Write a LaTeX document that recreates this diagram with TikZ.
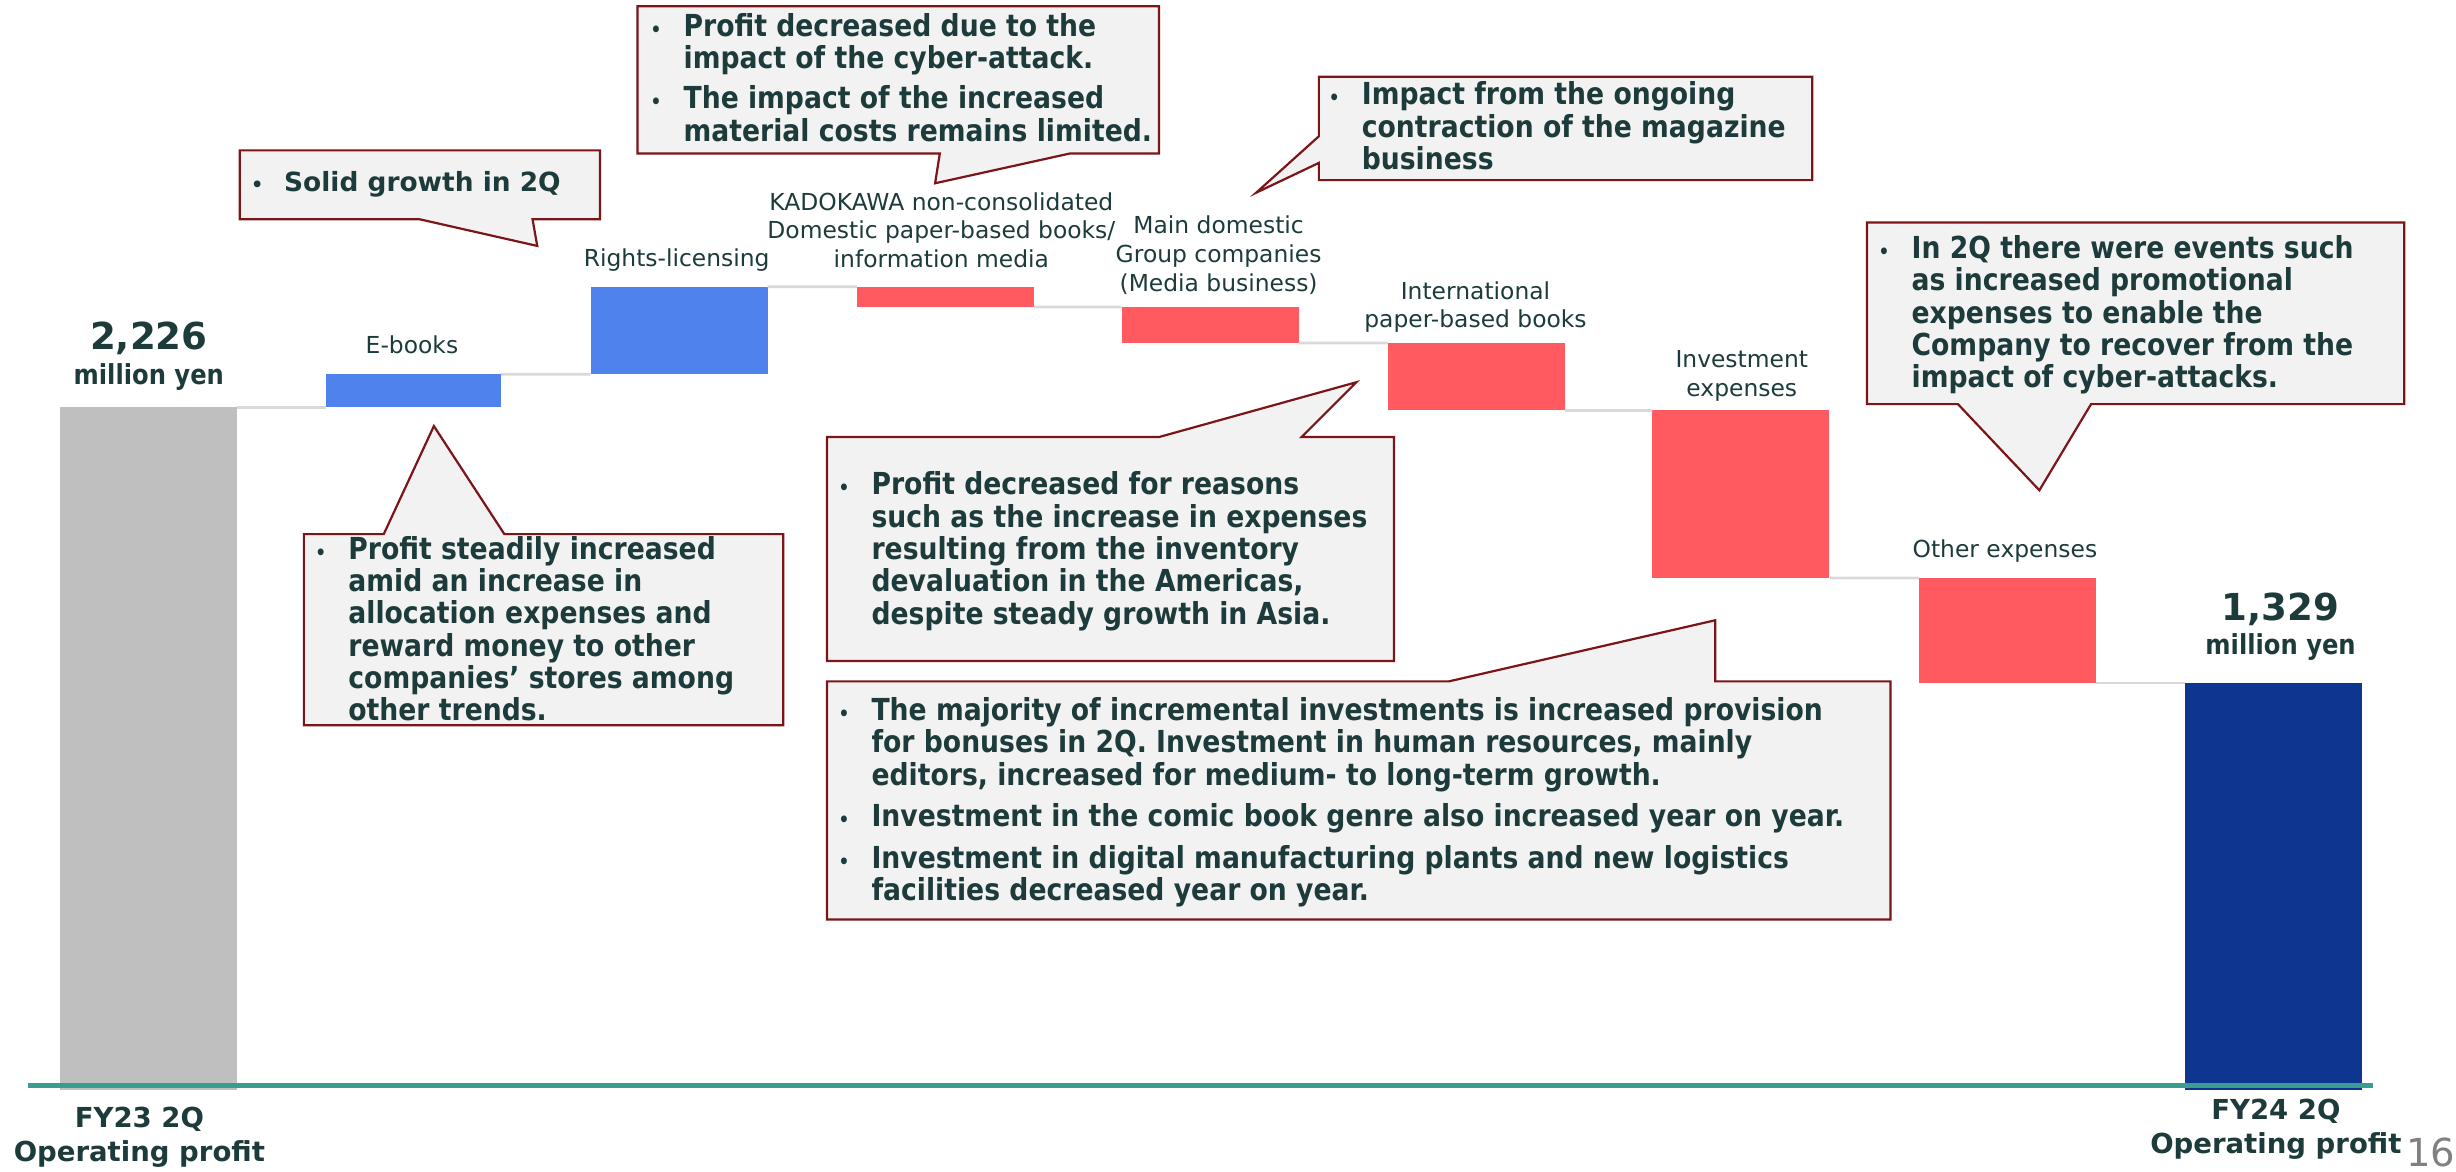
\documentclass[tikz,border=0pt]{standalone}
\usepackage{fontspec}
\setmainfont{DejaVu Sans}
\newfontfamily\condfont[FakeStretch=0.88]{DejaVu Sans}
\usepackage{tikz}
\usetikzlibrary{fit}

\definecolor{inkdark}{HTML}{1D3B3B}
\definecolor{upblue}{HTML}{5082EE}
\definecolor{downred}{HTML}{FF5A5F}
\definecolor{startgrey}{HTML}{BFBFBF}
\definecolor{endblue}{HTML}{0E3691}
\definecolor{axisteal}{HTML}{3B9C92}
\definecolor{stepgrey}{HTML}{D9D9D9}
\definecolor{notefill}{HTML}{F2F2F2}
\definecolor{noteedge}{HTML}{7B1518}

\newcommand{\bul}{\makebox[12pt][l]{\fontsize{7}{7}\selectfont\textbullet}}

\tikzset{
  bar/.style={inner sep=0pt, outer sep=0pt, draw=none},
  stepline/.style={stepgrey, line width=1pt},
  callout/.style={fill=notefill, draw=noteedge, line width=0.8pt},
  note/.style={inner sep=0pt, anchor=base west, text=inkdark,
    font=\condfont\bfseries\fontsize{11}{11.3}\selectfont},
  catlabel/.style={inner sep=0pt, align=center, text=inkdark,
    font=\fontsize{8.5}{10.5}\selectfont},
  valuelabel/.style={inner sep=0pt, text=inkdark, font=\bfseries\fontsize{13.5}{15}\selectfont},
  unitlabel/.style={inner sep=0pt, text=inkdark, font=\condfont\bfseries\fontsize{10}{12}\selectfont},
  endlabel/.style={inner sep=0pt, align=center, text=inkdark,
    font=\bfseries\fontsize{10}{12.5}\selectfont}
}

\begin{document}
\begin{tikzpicture}[x=0.2mm, y=-0.2mm]

    \useasboundingbox (0,0) rectangle (1568,748);

    % Bars
    \node[bar, fill=startgrey, fit={(38,260) (151,696)}] (fy23) {};
    \node[bar, fill=upblue,    fit={(208,239) (320,260)}] (ebooks) {};
    \node[bar, fill=upblue,    fit={(377,183) (490,239)}] (rights) {};
    \node[bar, fill=downred,   fit={(547,183) (660,196)}] (kadokawa) {};
    \node[bar, fill=downred,   fit={(716,196) (829,219)}] (maindom) {};
    \node[bar, fill=downred,   fit={(886,219) (999,262)}] (intl) {};
    \node[bar, fill=downred,   fit={(1055,262) (1168,369)}] (invest) {};
    \node[bar, fill=downred,   fit={(1225,369) (1338,436)}] (other) {};
    \node[bar, fill=endblue,   fit={(1395,436) (1508,696)}] (fy24) {};

    % Steps between bars
    \draw[stepline] (fy23.north east) -- (ebooks.south west);
    \draw[stepline] (ebooks.north east) -- (rights.south west);
    \draw[stepline] (rights.north east) -- (kadokawa.north west);
    \draw[stepline] (kadokawa.south east) -- (maindom.north west);
    \draw[stepline] (maindom.south east) -- (intl.north west);
    \draw[stepline] (intl.south east) -- (invest.north west);
    \draw[stepline] (invest.south east) -- (other.north west);
    \draw[stepline] (other.south east) -- (fy24.north west);

    % Base line
    \draw[axisteal, line width=1.6pt] (18,693) -- (1515,693);

    % Category labels
    \node[catlabel] (lebooks) at (263,220) {E-books};
    \node[catlabel] (lrights) at (432,166) {Rights-licensing};
    \node[catlabel] (lkadokawa) at (601,147) {KADOKAWA non-consolidated\\Domestic paper-based books/\\information media};
    \node[catlabel] (lmaindom) at (778,163) {Main domestic\\Group companies\\(Media business)};
    \node[catlabel] (lintl) at (942,196) {International\\paper-based books};
    \node[catlabel] (linvest) at (1112,240) {Investment\\expenses};
    \node[catlabel] (lother) at (1280,352) {Other expenses};

    % Values
    \node[valuelabel] (v23) at (95,216) {2,226};
    \node[unitlabel] (u23) at (95,241) {million yen};
    \node[valuelabel] (v24) at (1456,389) {1,329};
    \node[unitlabel] (u24) at (1456,413) {million yen};

    \node[endlabel] (l23) at (89,726) {FY23 2Q\\Operating profit};
    \node[endlabel] (l24) at (1453,721) {FY24 2Q\\Operating profit};
    \node[inner sep=0pt, anchor=base east, text=gray, font=\fontsize{14}{16}\selectfont] (page) at (1568,745) {16};

    % Callouts
    \draw[callout] (153,96) -- (383,96) -- (383,140) -- (340,140) -- (343,157) -- (268,140) -- (153,140) -- cycle;
    \draw[callout] (407,4) -- (740,4) -- (740,98) -- (683,98) -- (597,117) -- (600,98) -- (407,98) -- cycle;
    \draw[callout] (842,49) -- (1157,49) -- (1157,115) -- (842,115) -- (842,104) -- (802,123) -- (842,87) -- cycle;
    \draw[callout] (1192,142) -- (1535,142) -- (1535,258) -- (1335,258) -- (1302,313) -- (1250,258) -- (1192,258) -- cycle;
    \draw[callout] (194,341) -- (245,341) -- (277,272) -- (322,341) -- (500,341) -- (500,463) -- (194,463) -- cycle;
    \draw[callout] (528,279) -- (740,279) -- (866,244) -- (831,279) -- (890,279) -- (890,422) -- (528,422) -- cycle;
    \draw[callout] (528,435) -- (925,435) -- (1095,396) -- (1095,435) -- (1207,435) -- (1207,587) -- (528,587) -- cycle;

    \node[note, font=\bfseries\fontsize{9.6}{11.3}\selectfont] (nsolid) at (160,122) {\bul Solid growth in 2Q};
    \node[note] (ncyber) at (415,23) {\begin{tabular}[t]{@{}l@{}l@{}}
      \bul & Profit decreased due to the\\
           & impact of the cyber-attack.\\[3pt]
      \bul & The impact of the increased\\
           & material costs remains limited.
    \end{tabular}};
    \node[note] (nmagazine) at (848,67) {\begin{tabular}[t]{@{}l@{}l@{}}
      \bul & Impact from the ongoing\\
           & contraction of the magazine\\
           & business
    \end{tabular}};
    \node[note] (npromo) at (1199,165) {\begin{tabular}[t]{@{}l@{}l@{}}
      \bul & In 2Q there were events such\\
           & as increased promotional\\
           & expenses to enable the\\
           & Company to recover from the\\
           & impact of cyber-attacks.
    \end{tabular}};
    \node[note] (nsteady) at (201,357) {\begin{tabular}[t]{@{}l@{}l@{}}
      \bul & Profit steadily increased\\
           & amid an increase in\\
           & allocation expenses and\\
           & reward money to other\\
           & companies’ stores among\\
           & other trends.
    \end{tabular}};
    \node[note] (nintl) at (535,316) {\begin{tabular}[t]{@{}l@{}l@{}}
      \bul & Profit decreased for reasons\\
           & such as the increase in expenses\\
           & resulting from the inventory\\
           & devaluation in the Americas,\\
           & despite steady growth in Asia.
    \end{tabular}};
    \node[note] (ninvest) at (535,460) {\begin{tabular}[t]{@{}l@{}l@{}}
      \bul & The majority of incremental investments is increased provision\\
           & for bonuses in 2Q. Investment in human resources, mainly\\
           & editors, increased for medium- to long-term growth.\\[3.4pt]
      \bul & Investment in the comic book genre also increased year on year.\\[3.4pt]
      \bul & Investment in digital manufacturing plants and new logistics\\
           & facilities decreased year on year.
    \end{tabular}};

\end{tikzpicture}
\end{document}
